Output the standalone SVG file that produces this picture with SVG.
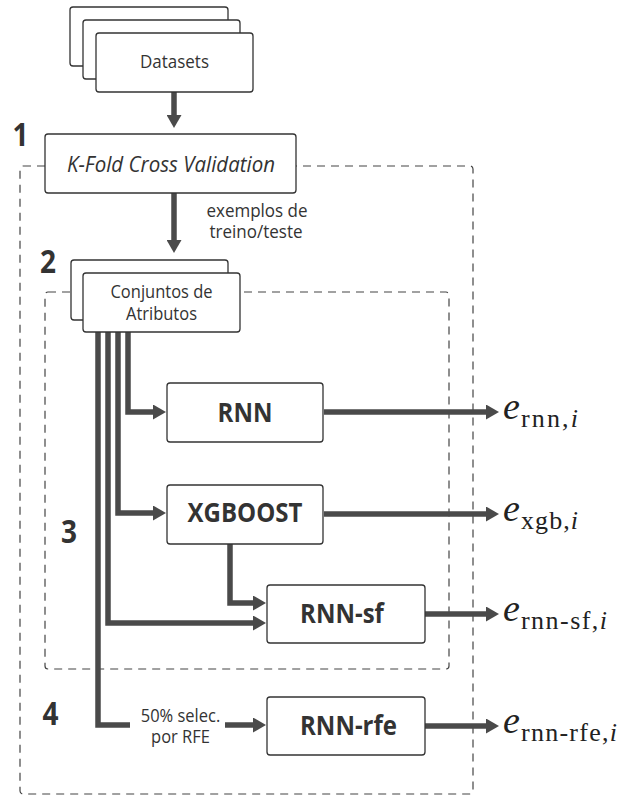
<svg xmlns="http://www.w3.org/2000/svg" width="619" height="796" viewBox="0 0 619 796">
<style>
.box{fill:#fff;stroke:#333;stroke-width:1.3}
.dash{fill:none;stroke:#444;stroke-width:1.2;stroke-dasharray:8 6}
.con{fill:none;stroke:#4a4a4a;stroke-width:5.5;stroke-linejoin:miter}
.t{font-family:"Open Sans","Noto Sans",sans-serif;fill:#333;text-anchor:middle}
.b{font-weight:bold}
.num{font-family:"Open Sans","Noto Sans",sans-serif;font-weight:bold;fill:#333;font-size:28px;text-anchor:middle}
.m{font-family:"Liberation Serif",serif;fill:#222}
</style>
<defs>
<marker id="ah" markerWidth="13" markerHeight="15" refX="0" refY="7.5" orient="auto" markerUnits="userSpaceOnUse">
<path d="M0,0 L13,7.5 L0,15 z" fill="#4a4a4a"/>
</marker>
</defs>

<g id="regions">
<rect class="dash" x="20" y="166" width="453" height="628" rx="3"/>
<rect class="dash" x="45" y="292" width="404" height="377" rx="3"/>
<text class="num" transform="translate(20.5,146) scale(1,1.15)">1</text>
<text class="num" transform="translate(48,273) scale(1,1.15)">2</text>
<text class="num" transform="translate(69,543) scale(1,1.15)">3</text>
<text class="num" transform="translate(50.5,725) scale(1,1.15)">4</text>
</g>

<g id="connectors">
<path class="con" d="M174,92 V115" marker-end="url(#ah)"/>
<path class="con" d="M174,193 V240" marker-end="url(#ah)"/>
<path class="con" d="M128,332 V412 H153" marker-end="url(#ah)"/>
<path class="con" d="M118,332 V513 H153" marker-end="url(#ah)"/>
<path class="con" d="M108,332 V623 H253" marker-end="url(#ah)"/>
<path class="con" d="M98,332 V725 H130"/>
<path class="con" d="M225,725 H253" marker-end="url(#ah)"/>
<path class="con" d="M230,544 V603 H253" marker-end="url(#ah)"/>
<path class="con" d="M324,412 H486" marker-end="url(#ah)"/>
<path class="con" d="M324,514 H486" marker-end="url(#ah)"/>
<path class="con" d="M425,614 H486" marker-end="url(#ah)"/>
<path class="con" d="M425,726 H486" marker-end="url(#ah)"/>
<text class="t" font-size="17" transform="translate(257,217) scale(1,1.1)">exemplos de</text>
<text class="t" font-size="17" transform="translate(256,238) scale(1,1.1)">treino/teste</text>
<text class="t" font-size="16.5" transform="translate(180.5,722) scale(1,1.05)">50% selec.</text>
<text class="t" font-size="16.5" transform="translate(180.5,743) scale(1,1.05)">por RFE</text>
</g>

<g id="datasets">
<rect class="box" x="70" y="7" width="158" height="59" rx="3"/>
<rect class="box" x="83" y="20" width="157" height="59" rx="3"/>
<rect class="box" x="96" y="33" width="157" height="59" rx="3"/>
<text class="t" font-size="17" transform="translate(174.5,68) scale(1,1.12)">Datasets</text>
</g>

<g id="kfold">
<rect class="box" x="45" y="134" width="251" height="59" rx="3"/>
<text class="t" font-size="20.5" font-style="italic" transform="translate(171,172) scale(1,1.05)">K-Fold Cross Validation</text>
</g>

<g id="conjuntos">
<rect class="box" x="71" y="260" width="157" height="60" rx="3"/>
<rect class="box" x="83" y="273" width="157" height="59" rx="3"/>
<text class="t" font-size="16.5" transform="translate(161.5,298) scale(1,1.08)">Conjuntos de</text>
<text class="t" font-size="16.5" transform="translate(161.5,320) scale(1,1.08)">Atributos</text>
</g>

<g id="rnn">
<rect class="box" x="167" y="383" width="156" height="59" rx="3"/>
<text class="t b" font-size="24" transform="translate(245,422) scale(1,1.15)">RNN</text>
</g>

<g id="xgboost">
<rect class="box" x="167" y="485" width="156" height="59" rx="3"/>
<text class="t b" font-size="24" transform="translate(245,522) scale(1,1.15)">XGBOOST</text>
</g>

<g id="rnn-sf">
<rect class="box" x="267" y="585" width="158" height="58" rx="3"/>
<text class="t b" font-size="24" transform="translate(342,623) scale(1,1.15)">RNN-sf</text>
</g>

<g id="rnn-rfe">
<rect class="box" x="267" y="697" width="158" height="58" rx="3"/>
<text class="t b" font-size="24" transform="translate(348.5,735) scale(1,1.15)">RNN-rfe</text>
</g>

<g id="outputs">
<text class="m" x="503" y="419" font-size="38" font-style="italic">e</text>
<text class="m" x="521" y="427" font-size="26" textLength="57" lengthAdjust="spacing">rnn,<tspan font-style="italic">i</tspan></text>
<text class="m" x="503" y="521" font-size="38" font-style="italic">e</text>
<text class="m" x="521" y="529" font-size="26" textLength="57" lengthAdjust="spacing">xgb,<tspan font-style="italic">i</tspan></text>
<text class="m" x="503" y="621" font-size="38" font-style="italic">e</text>
<text class="m" x="521" y="629" font-size="26" textLength="86" lengthAdjust="spacing">rnn-sf,<tspan font-style="italic">i</tspan></text>
<text class="m" x="503" y="733" font-size="38" font-style="italic">e</text>
<text class="m" x="521" y="741" font-size="26" textLength="96" lengthAdjust="spacing">rnn-rfe,<tspan font-style="italic">i</tspan></text>
</g>
</svg>
